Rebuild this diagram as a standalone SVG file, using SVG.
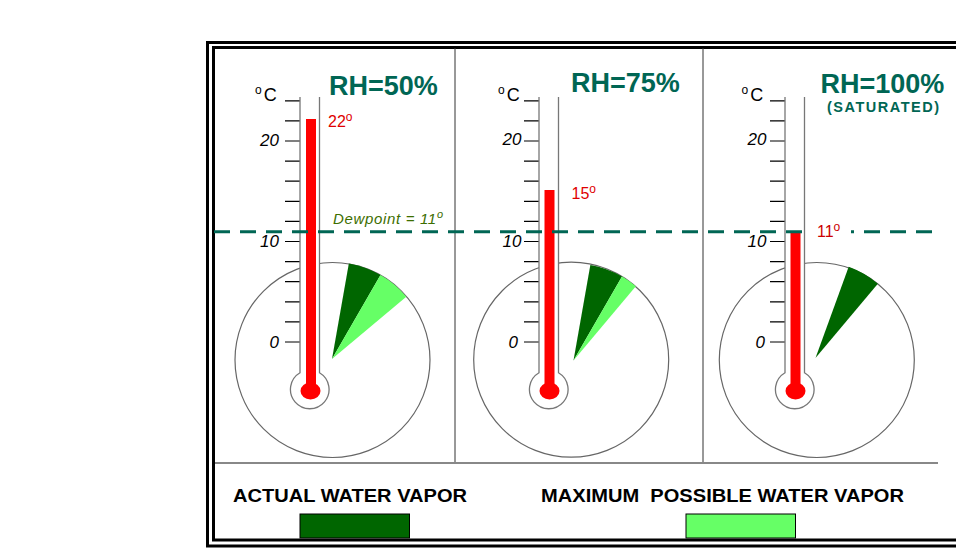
<svg xmlns="http://www.w3.org/2000/svg" width="956" height="559" viewBox="0 0 956 559">
<defs>
<style>
.frame{fill:none;stroke:#000;stroke-width:3}
.div{stroke:#333;stroke-width:1}
.dial{fill:#fff;stroke:#666;stroke-width:1.2}
.dark{fill:#006600}
.light{fill:#66ff66}
.tube{fill:#fff;stroke:#777;stroke-width:1.3}
.ticks{stroke:#000;stroke-width:1.2;fill:none}
.red{fill:#ff0000}
.num{font-family:"Liberation Sans",Arial,sans-serif;font-style:italic;font-size:17px;fill:#000;text-anchor:end}
.unit{font-family:"Liberation Sans",Arial,sans-serif;font-size:18px;fill:#000}
.rh{font-family:"Liberation Sans",Arial,sans-serif;font-weight:bold;font-size:27px;fill:#006654}
.sat{font-family:"Liberation Sans",Arial,sans-serif;font-weight:bold;font-size:14.5px;fill:#006654}
.temp{font-family:"Liberation Sans",Arial,sans-serif;font-size:16px;fill:#e00000}
.dew{font-family:"Liberation Sans",Arial,sans-serif;font-style:italic;font-size:15px;fill:#3d6e00}
.leg{font-family:"Liberation Sans",Arial,sans-serif;font-weight:bold;font-size:19px;fill:#000}
.dash{stroke:#006654;stroke-width:3;stroke-dasharray:16 10;fill:none}
</style>
<g id="thermo">
<path class="ticks" d="M-15,100.8h15M-15,120.9h15M-15,141h15M-15,161.1h15M-15,181.2h15M-15,201.3h15M-15,221.4h15M-15,241.5h15M-15,261.6h15M-15,281.7h15M-15,301.8h15M-15,321.9h15M-15,342h15"/>
<path class="tube" d="M0,97V372.8A19.3,19.3 0 1 0 19.5,372.8V97"/>
<ellipse class="red" cx="10.5" cy="391" rx="10" ry="8.5"/>
</g>
</defs>

<g id="frame">
<path class="frame" d="M975,42.5H207.5V546H975"/>
<path class="frame" d="M975,47.5H213.5V540H975"/>
<line class="div" x1="455" y1="48" x2="455" y2="463"/>
<line class="div" x1="703" y1="48" x2="703" y2="463"/>
<line x1="215" y1="463" x2="938" y2="463" stroke="#888" stroke-width="2"/>
</g>

<g id="panel1">
<circle class="dial" cx="332.5" cy="360" r="97.5"/>
<path class="dark" d="M332,359L348.84,263.47A97,97 0 0 1 380.5,275Z"/>
<path class="light" d="M332,359L380.5,275A97,97 0 0 1 406.3,296.65Z"/>
<g transform="translate(300,0)">
<use href="#thermo"/>
<rect class="red" x="6" y="119" width="10" height="272"/>
<text class="num" x="-21" y="145.5">20</text>
<text class="num" x="-21" y="247">10</text>
<text class="num" x="-21" y="347.5">0</text>
<text class="unit" x="-45" y="101"><tspan font-size="12" dy="-7">o</tspan><tspan dx="2" dy="7">C</tspan></text>
</g>
<text class="rh" x="329" y="94.5">RH=50%</text>
<text class="temp" x="328" y="126.5">22<tspan font-size="12" dy="-6">o</tspan></text>
<text class="dew" x="333" y="223.5" textLength="110">Dewpoint = 11<tspan font-size="11" dy="-6">o</tspan></text>
</g>

<g id="panel2">
<circle class="dial" cx="571.2" cy="359.7" r="97.5"/>
<path class="dark" d="M573.5,360.5L590.34,264.97A97,97 0 0 1 622,276.5Z"/>
<path class="light" d="M573.5,360.5L622,276.5A97,97 0 0 1 635.85,286.2Z"/>
<g transform="translate(539,0)">
<use href="#thermo"/>
<rect class="red" x="5.5" y="190" width="10" height="201"/>
<text class="num" x="-17.5" y="145">20</text>
<text class="num" x="-17.5" y="246.5">10</text>
<text class="num" x="-21" y="347.5">0</text>
<text class="unit" x="-41" y="101"><tspan font-size="12" dy="-7">o</tspan><tspan dx="2" dy="7">C</tspan></text>
</g>
<text class="rh" x="571" y="92">RH=75%</text>
<text class="temp" x="571.5" y="198.5">15<tspan font-size="12" dy="-6">o</tspan></text>
</g>

<g id="panel3">
<circle class="dial" cx="816.8" cy="360" r="97.5"/>
<path class="dark" d="M815.5,358L848.7,266.85A97,97 0 0 1 877.85,283.7Z"/>
<g transform="translate(785,0)">
<use href="#thermo"/>
<rect class="red" x="5.5" y="233" width="10" height="158"/>
<text class="num" x="-18.5" y="144.5">20</text>
<text class="num" x="-18.5" y="246.5">10</text>
<text class="num" x="-20" y="347.5">0</text>
<text class="unit" x="-43.5" y="100.5"><tspan font-size="12" dy="-7">o</tspan><tspan dx="2" dy="7">C</tspan></text>
</g>
<text class="rh" x="820.5" y="92.5">RH=100%</text>
<text class="sat" x="827" y="112" textLength="112">(SATURATED)</text>
</g>

<g id="connectors">
<line class="dash" x1="214" y1="231.7" x2="932" y2="231.7"/>
<rect x="811" y="220" width="40" height="19" fill="#fff"/>
<text class="temp" x="817" y="237" style="fill:#cc0000">11<tspan font-size="12" dy="-6">o</tspan></text>
</g>

<g id="legend">
<text class="leg" x="233" y="501.5" textLength="234" lengthAdjust="spacingAndGlyphs">ACTUAL WATER VAPOR</text>
<text class="leg" x="541" y="501.5" textLength="363" lengthAdjust="spacingAndGlyphs" xml:space="preserve">MAXIMUM  POSSIBLE WATER VAPOR</text>
<rect x="300" y="514" width="109.5" height="24" fill="#006600" stroke="#000" stroke-width="1"/>
<rect x="686" y="514" width="109.5" height="24" fill="#66ff66" stroke="#000" stroke-width="1"/>
</g>
</svg>
